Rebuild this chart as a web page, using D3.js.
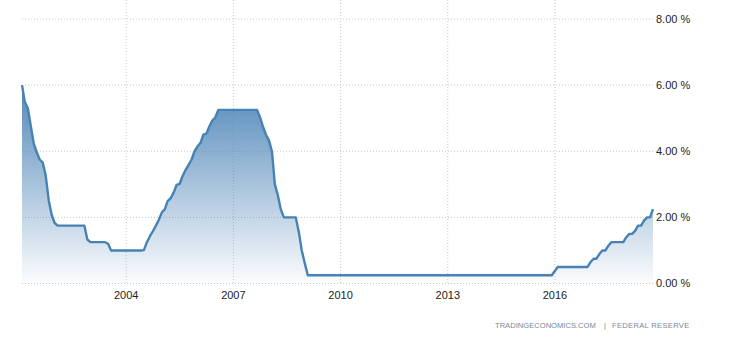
<!DOCTYPE html>
<html>
<head>
<meta charset="utf-8">
<script src="https://d3js.org/d3.v7.min.js"></script>
<style>
  body { margin: 0; background: #fff; }
  text { font-family: "Liberation Sans", Arial, sans-serif; }
</style>
</head>
<body>
<script>
// monthly fed funds target (monthly average), Jan 2001 .. Sep 2018
var firstYear = 2001;
var r2001 = [6.00, 5.50, 5.31, 4.78, 4.23, 3.97, 3.75, 3.66, 3.27, 2.52, 2.08, 1.83];
var r2002 = [1.75, 1.75, 1.75, 1.75, 1.75, 1.75, 1.75, 1.75, 1.75, 1.75, 1.33, 1.25];
var r2003 = [1.25, 1.25, 1.25, 1.25, 1.25, 1.20, 1.00, 1.00, 1.00, 1.00, 1.00, 1.00];
var r2004 = [1.00, 1.00, 1.00, 1.00, 1.00, 1.01, 1.25, 1.43, 1.58, 1.75, 1.93, 2.15];
var r2005 = [2.25, 2.49, 2.58, 2.75, 2.98, 3.01, 3.25, 3.44, 3.59, 3.75, 4.00, 4.15];
var r2006 = [4.26, 4.50, 4.53, 4.75, 4.93, 5.02, 5.25, 5.25, 5.25, 5.25, 5.25, 5.25];
var r2007 = [5.25, 5.25, 5.25, 5.25, 5.25, 5.25, 5.25, 5.25, 5.03, 4.74, 4.50, 4.33];
var r2008 = [3.98, 3.00, 2.66, 2.24, 2.00, 2.00, 2.00, 2.00, 2.00, 1.56, 1.00, 0.61];
var r2009 = [0.25, 0.25, 0.25, 0.25, 0.25, 0.25, 0.25, 0.25, 0.25, 0.25, 0.25, 0.25];
var r2010 = [0.25, 0.25, 0.25, 0.25, 0.25, 0.25, 0.25, 0.25, 0.25, 0.25, 0.25, 0.25];
var r2011 = [0.25, 0.25, 0.25, 0.25, 0.25, 0.25, 0.25, 0.25, 0.25, 0.25, 0.25, 0.25];
var r2012 = [0.25, 0.25, 0.25, 0.25, 0.25, 0.25, 0.25, 0.25, 0.25, 0.25, 0.25, 0.25];
var r2013 = [0.25, 0.25, 0.25, 0.25, 0.25, 0.25, 0.25, 0.25, 0.25, 0.25, 0.25, 0.25];
var r2014 = [0.25, 0.25, 0.25, 0.25, 0.25, 0.25, 0.25, 0.25, 0.25, 0.25, 0.25, 0.25];
var r2015 = [0.25, 0.25, 0.25, 0.25, 0.25, 0.25, 0.25, 0.25, 0.25, 0.25, 0.25, 0.38];
var r2016 = [0.50, 0.50, 0.50, 0.50, 0.50, 0.50, 0.50, 0.50, 0.50, 0.50, 0.50, 0.65];
var r2017 = [0.75, 0.75, 0.89, 1.00, 1.00, 1.14, 1.25, 1.25, 1.25, 1.25, 1.25, 1.40];
var r2018 = [1.50, 1.50, 1.59, 1.75, 1.75, 1.90, 2.00, 2.00, 2.25];

var years = [r2001, r2002, r2003, r2004, r2005, r2006, r2007, r2008, r2009,
             r2010, r2011, r2012, r2013, r2014, r2015, r2016, r2017, r2018];
var yTicks = [0, 2, 4, 6, 8];
var xTickYears = [2004, 2007, 2010, 2013, 2016];
var sourceLeft = "TRADINGECONOMICS.COM";
var sourceRight = "FEDERAL RESERVE";

// each value sits on the last day of its month
var data = [];
years.forEach(function(arr, i){
  arr.forEach(function(v, m){
    data.push({ date: new Date(firstYear + i, m + 1, 0), value: v });
  });
});

var w = 730, h = 340;
var mLeft = 22, mRight = 653, mTop = 19, mBottom = 283.5;

var svg = d3.select("body").append("svg").attr("width", w).attr("height", h);

var x = d3.scaleTime().domain(d3.extent(data, function(d){ return d.date; })).range([mLeft, mRight]);
var y = d3.scaleLinear().domain([0, 8]).range([mBottom, mTop]);

var defs = svg.append("defs");
var grad = defs.append("linearGradient").attr("id", "fillGrad")
  .attr("gradientUnits", "userSpaceOnUse")
  .attr("x1", 0).attr("x2", 0).attr("y1", y(6)).attr("y2", y(0));
grad.append("stop").attr("offset", "0%").attr("stop-color", "#4a82b6").attr("stop-opacity", 0.95);
grad.append("stop").attr("offset", "100%").attr("stop-color", "#4a82b6").attr("stop-opacity", 0.02);

// grid
svg.append("g").selectAll("line").data(yTicks).enter().append("line")
  .attr("x1", mLeft).attr("x2", mRight)
  .attr("y1", function(d){ return y(d); }).attr("y2", function(d){ return y(d); })
  .attr("stroke", "#c8c8c8").attr("stroke-dasharray", "1,2");

svg.append("g").selectAll("line").data(xTickYears).enter().append("line")
  .attr("x1", function(d){ return x(new Date(d, 0, 1)); })
  .attr("x2", function(d){ return x(new Date(d, 0, 1)); })
  .attr("y1", 0).attr("y2", mBottom)
  .attr("stroke", "#c8c8c8").attr("stroke-dasharray", "1,2");

var area = d3.area().x(function(d){ return x(d.date); }).y0(mBottom).y1(function(d){ return y(d.value); });
var line = d3.line().x(function(d){ return x(d.date); }).y(function(d){ return y(d.value); });

svg.append("path").datum(data).attr("d", area).attr("fill", "url(#fillGrad)");
svg.append("path").datum(data).attr("d", line)
  .attr("fill", "none").attr("stroke", "#4682b4").attr("stroke-width", 2.4)
  .attr("stroke-linejoin", "round");

// axis labels
svg.append("g").selectAll("text").data(yTicks).enter().append("text")
  .attr("x", 656).attr("y", function(d){ return y(d); }).attr("dy", "0.35em")
  .attr("font-size", "11px").attr("fill", "#222")
  .text(function(d){ return d3.format(".2f")(d) + " %"; });

svg.append("g").selectAll("text").data(xTickYears).enter().append("text")
  .attr("x", function(d){ return x(new Date(d, 0, 1)); }).attr("y", 299)
  .attr("text-anchor", "middle").attr("font-size", "11px").attr("fill", "#222")
  .text(function(d){ return d; });

// source
svg.append("text").attr("x", 495).attr("y", 328).attr("font-size", "7.6px").attr("fill", "#7a8799")
  .text(sourceLeft);
svg.append("text").attr("x", 604).attr("y", 328).attr("font-size", "7.6px").attr("fill", "#7a8799").text("|");
svg.append("text").attr("x", 612).attr("y", 328).attr("font-size", "7.6px").attr("fill", "#7a8799")
  .attr("letter-spacing", "0.3px").text(sourceRight);
</script>
</body>
</html>
